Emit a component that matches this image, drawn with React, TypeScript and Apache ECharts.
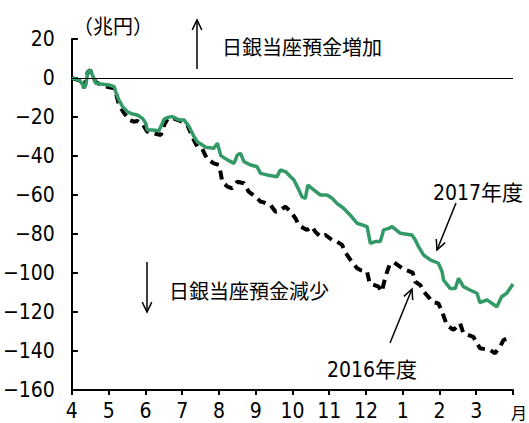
import React, { useEffect, useRef } from "react";
import * as echarts from "echarts";

// x: months elapsed since start of April (0 = Apr 1, 12 = end of March)
const monthLabels = ["4", "5", "6", "7", "8", "9", "10", "11", "12", "1", "2", "3", ""];
const yTicks = { min: -160, max: 20, step: 20 };

const fy2016: [number, number][] = [
  [0, 0], [0.2, -1.2], [0.33, -5], [0.43, 3], [0.5, 4], [0.56, 1], [0.65, -2], [0.79, -3.5],
  [0.92, -4.4], [1.15, -5.3], [1.2, -8], [1.28, -13.8], [1.42, -18], [1.56, -21.5], [1.69, -22.4],
  [1.78, -22], [1.92, -23.5], [2.05, -27.5], [2.24, -28.4], [2.42, -29.2], [2.51, -24.1], [2.6, -21],
  [2.73, -20.5], [3.0, -22.4], [3.14, -24.1], [3.32, -31.8], [3.41, -35.2], [3.55, -36.5], [3.68, -41.5],
  [3.86, -43.8], [4.0, -44.6], [4.05, -48.9], [4.09, -53.2], [4.23, -55.7], [4.36, -56.6], [4.5, -53.2],
  [4.68, -54], [4.81, -58.3], [5.0, -60.9], [5.13, -63.4], [5.22, -63.8], [5.4, -65.1], [5.54, -68.6],
  [5.67, -67.7], [5.81, -66], [5.95, -68.6], [6.08, -71.9], [6.17, -75.4], [6.31, -77.1], [6.4, -77.9],
  [6.53, -76.2], [6.62, -78.8], [6.76, -81.4], [6.9, -80.5], [7.08, -83.1], [7.21, -83.9], [7.35, -85.6],
  [7.44, -89.5], [7.58, -93.3], [7.76, -97.6], [7.85, -98.5], [8.03, -99.3], [8.1, -105.3], [8.34, -107],
  [8.43, -109.6], [8.53, -101.9], [8.64, -95.9], [8.77, -94.6], [9.02, -98], [9.27, -99.8], [9.34, -104.5],
  [9.48, -106.2], [9.57, -109.6], [9.7, -112.2], [9.79, -114.7], [9.97, -115.6], [10.07, -119.8],
  [10.2, -126.7], [10.38, -129.2], [10.56, -125.8], [10.65, -130.9], [10.92, -132.7], [11.1, -138.6],
  [11.38, -139.5], [11.51, -141.2], [11.65, -137.8], [11.74, -134.4], [11.97, -132.7],
];

const fy2017: [number, number][] = [
  [0, 0], [0.1, -0.5], [0.2, -1.2], [0.28, -3], [0.33, -5], [0.38, -3.5], [0.43, 3], [0.5, 4],
  [0.56, 1.5], [0.65, -2.7], [0.79, -3.1], [1.01, -3.6], [1.15, -4.4], [1.19, -7], [1.28, -11.3],
  [1.38, -14.7], [1.51, -17.3], [1.65, -18.5], [1.78, -19], [1.92, -20.7], [2.01, -23.2], [2.05, -26.7],
  [2.19, -26.7], [2.37, -27], [2.46, -23.2], [2.51, -21.2], [2.6, -20.2], [2.73, -19.8], [2.91, -21.5],
  [3.05, -21.5], [3.19, -25], [3.32, -30], [3.41, -32.7], [3.55, -34.4], [3.64, -35.5], [3.86, -36],
  [3.96, -33.5], [4.05, -39.8], [4.23, -42], [4.41, -43.8], [4.5, -39.5], [4.59, -38.6], [4.68, -42.9],
  [4.86, -44.6], [5.04, -45.5], [5.13, -48.9], [5.31, -49.7], [5.58, -50.6], [5.67, -47.2], [5.81, -48],
  [5.95, -50.6], [6.04, -52.3], [6.13, -55.7], [6.26, -60.9], [6.35, -61.7], [6.42, -54.9], [6.58, -57.4],
  [6.76, -60], [6.94, -60], [7.08, -61.7], [7.21, -64.3], [7.39, -66.8], [7.58, -70.5], [7.76, -74.5],
  [8.03, -76.2], [8.12, -84.8], [8.25, -83.9], [8.39, -83.9], [8.48, -77.9], [8.62, -77.1], [8.71, -76.2],
  [8.93, -79.6], [9.25, -80.5], [9.34, -83], [9.43, -86.5], [9.57, -90.8], [9.75, -93.3], [9.97, -95],
  [10.07, -99.3], [10.11, -103.6], [10.29, -107.9], [10.43, -107.9], [10.52, -102.7], [10.65, -107],
  [10.83, -108.7], [11.02, -110.4], [11.1, -115.2], [11.29, -113.8], [11.56, -117.3], [11.69, -112.2],
  [11.83, -110.4], [12.0, -105.6],
];

const NUM_FONT = "'Liberation Sans Narrow', 'DejaVu Sans Condensed', 'Noto Sans CJK JP', sans-serif";
const JP_FONT = "'Noto Sans CJK JP', sans-serif";

function arrow(x1: number, y1: number, x2: number, y2: number) {
  const ang = Math.atan2(y1 - y2, x1 - x2);
  const L = 11;
  const a = 0.45;
  const style = { stroke: "#000", lineWidth: 1.5, fill: null as any };
  return [
    { type: "line", shape: { x1, y1, x2, y2 }, style },
    {
      type: "polyline",
      shape: {
        points: [
          [x2 + L * Math.cos(ang + a), y2 + L * Math.sin(ang + a)],
          [x2, y2],
          [x2 + L * Math.cos(ang - a), y2 + L * Math.sin(ang - a)],
        ],
      },
      style,
    },
  ];
}

function txt(x: number, y: number, text: string, fontSize: number, font: string, align = "left") {
  return {
    type: "text",
    x,
    y,
    style: { text, fontSize, fontFamily: font, fill: "#000", align, verticalAlign: "middle" },
  };
}

export default function App() {
  const ref = useRef<HTMLDivElement>(null);
  useEffect(() => {
    document.body.style.margin = "0";
    if (!ref.current) return;
    const chart = echarts.init(ref.current, undefined, { renderer: "svg" });
    chart.setOption({
      animation: false,
      backgroundColor: "#fff",
      grid: { left: 71, top: 39, right: 16, bottom: 33 },
      xAxis: {
        type: "value",
        min: 0,
        max: 12,
        interval: 1,
        axisLine: { onZero: false, lineStyle: { color: "#000", width: 2 } },
        axisTick: { show: true, inside: false, length: 5, lineStyle: { color: "#000", width: 2 } },
        axisLabel: {
          color: "#000",
          fontSize: 21,
          fontFamily: NUM_FONT,
          margin: 10,
          formatter: (v: number) => monthLabels[Math.round(v)] ?? "",
        },
        splitLine: { show: false },
      },
      yAxis: {
        type: "value",
        min: yTicks.min,
        max: yTicks.max,
        interval: yTicks.step,
        axisLine: { show: true, lineStyle: { color: "#000", width: 2 } },
        axisTick: { show: true, inside: true, length: 6, lineStyle: { color: "#000", width: 2 } },
        axisLabel: {
          color: "#000",
          fontSize: 21,
          fontFamily: NUM_FONT,
          margin: 17,
          formatter: (v: number) => (v < 0 ? "\u2212" + Math.abs(v) : String(v)),
        },
        splitLine: { show: false },
      },
      series: [
        {
          name: "2016年度",
          type: "line",
          data: fy2016,
          showSymbol: false,
          symbol: "none",
          lineStyle: { color: "#000", width: 4, type: [9, 6] },
          z: 2,
        },
        {
          name: "2017年度",
          type: "line",
          data: fy2017,
          showSymbol: false,
          symbol: "none",
          lineStyle: { color: "#339966", width: 3.5 },
          z: 3,
          markLine: {
            silent: true,
            symbol: "none",
            label: { show: false },
            lineStyle: { color: "#000", width: 1, type: "solid" },
            data: [{ yAxis: 0 }],
          },
        },
      ],
      graphic: [
        txt(73, 25, "（兆円）", 20, JP_FONT),
        txt(222, 46, "日銀当座預金増加", 20, JP_FONT),
        txt(169, 290, "日銀当座預金減少", 20, JP_FONT),
        txt(433, 193, "2017年度", 21, NUM_FONT),
        txt(327, 370, "2016年度", 21, NUM_FONT),
        txt(519, 412, "月", 16, JP_FONT, "center"),
        ...arrow(197, 69, 197, 20),
        ...arrow(147, 262, 147, 312),
        ...arrow(456, 203, 437, 250),
        ...arrow(390, 343, 412, 289),
      ],
    });
    return () => chart.dispose();
  }, []);
  return <div ref={ref} style={{ width: 529, height: 423 }} />;
}
